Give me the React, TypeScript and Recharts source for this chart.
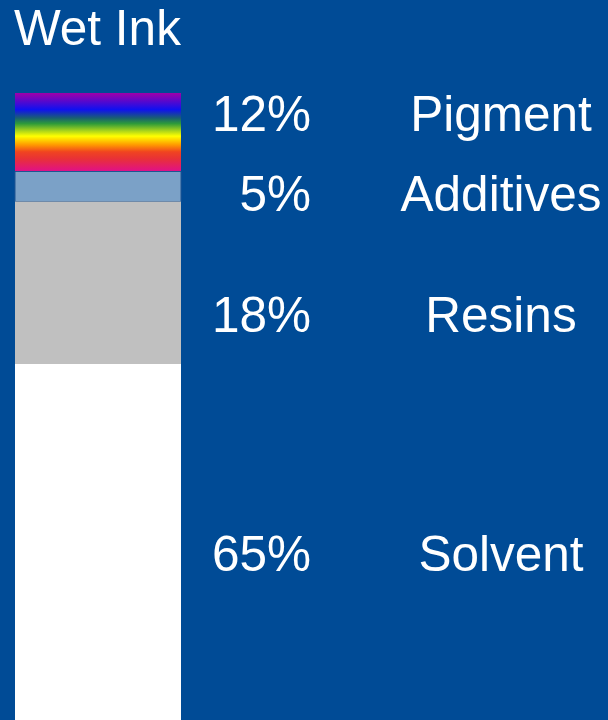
import React from 'react';
import { BarChart, Bar, XAxis, YAxis, Customized } from 'recharts';

// Chart content
const categories = ['Wet Ink'];
const segmentNames = ['Pigment', 'Additives', 'Resins', 'Solvent'];
// visual heights of the stacked segments (as drawn in the picture)
const segmentHeights = [78.5, 30, 162.5, 356];
const percentLabels = ['12%', '5%', '18%', '65%'];
// levels (same units as the bar) where each label row sits
const labelLevels = [38, 118, 239, 478];

const BG = '#004B96';
const FONT = '"Liberation Sans", Arial, Helvetica, sans-serif';
const segmentFills = ['url(#rainbow)', '#7BA1C7', '#C0C0C0', '#FFFFFF'];
const segmentStrokes = ['none', '#1F5592', 'none', 'none'];

const data = categories.map((name) => {
  const row: Record<string, string | number> = { name };
  segmentNames.forEach((s, i) => {
    row[s] = segmentHeights[i];
  });
  return row;
});

const total = segmentHeights.reduce((a, b) => a + b, 0);

const LabelTick = (props: any) => {
  const { y, payload } = props;
  const i = labelLevels.indexOf(payload.value);
  if (i < 0) return null;
  return (
    <g>
      <text x={311} y={y} textAnchor="end" fill="#FFFFFF" fontSize={49.5} fontFamily={FONT}>
        {percentLabels[i]}
      </text>
      <text x={501} y={y} textAnchor="middle" fill="#FFFFFF" fontSize={49.5} fontFamily={FONT}>
        {segmentNames[i]}
      </text>
    </g>
  );
};

const Title = () => (
  <text x={14} y={45} fill="#FFFFFF" fontSize={49.5} fontFamily={FONT}>
    {categories[0]}
  </text>
);

export default function App() {
  return (
    <div style={{ position: 'absolute', left: 0, top: 0, width: 608, height: 720, background: BG, overflow: 'hidden' }}>
      <BarChart
        width={608}
        height={720}
        data={data}
        margin={{ top: 93, right: 0, bottom: 0, left: 0 }}
        barCategoryGap={0}
      >
        <defs>
          <linearGradient id="rainbow" x1="0" y1="0" x2="0" y2="1">
            <stop offset="0" stopColor="#A000A8" />
            <stop offset="0.21" stopColor="#1010F0" />
            <stop offset="0.32" stopColor="#1A6070" />
            <stop offset="0.39" stopColor="#2E9A3A" />
            <stop offset="0.47" stopColor="#9ACD20" />
            <stop offset="0.55" stopColor="#FFFF00" />
            <stop offset="0.66" stopColor="#FF9A00" />
            <stop offset="0.75" stopColor="#F04420" />
            <stop offset="0.84" stopColor="#E83038" />
            <stop offset="1" stopColor="#E0108A" />
          </linearGradient>
        </defs>
        <XAxis dataKey="name" hide />
        <YAxis
          orientation="right"
          width={412}
          domain={[0, total]}
          reversed
          ticks={labelLevels}
          interval={0}
          axisLine={false}
          tickLine={false}
          tick={<LabelTick />}
        />
        {segmentNames.map((s, i) => (
          <Bar
            key={s}
            dataKey={s}
            stackId="ink"
            barSize={166}
            fill={segmentFills[i]}
            stroke={segmentStrokes[i]}
            strokeWidth={1}
            isAnimationActive={false}
          />
        ))}
        <Customized component={Title} />
      </BarChart>
    </div>
  );
}
